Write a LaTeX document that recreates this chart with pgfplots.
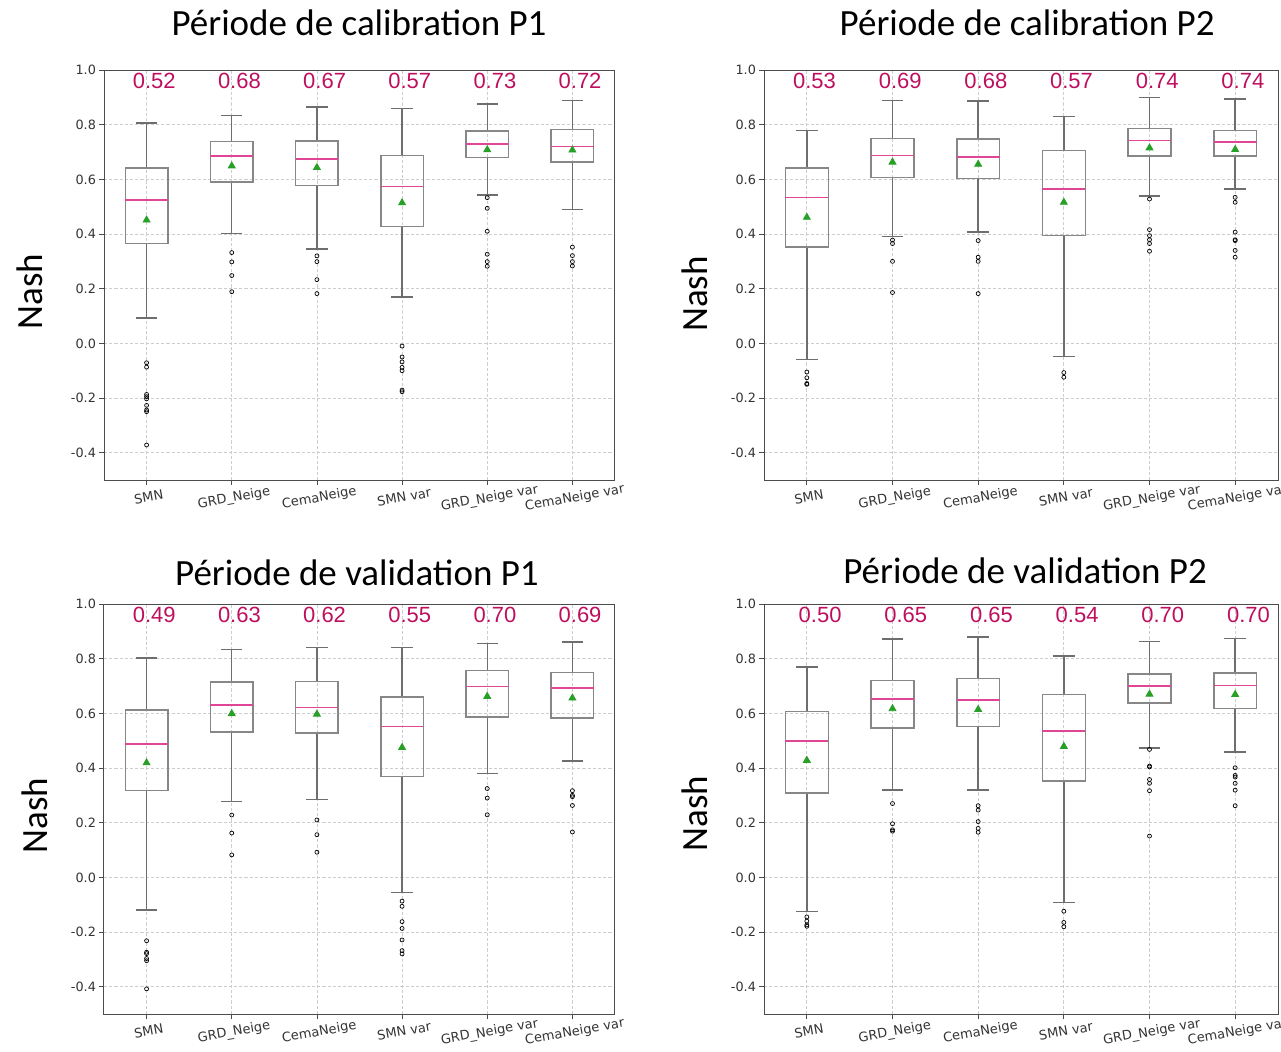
\documentclass[border=0pt]{standalone}
\usepackage{fontspec}
\setmainfont{Carlito}
\newfontfamily\arialf{Liberation Sans}
\newfontfamily\dejavu{DejaVu Sans}
\usepackage{pgfplots}
\pgfplotsset{compat=1.18}
\usepgfplotslibrary{statistics}
\definecolor{labelc}{RGB}{190,15,95}
\definecolor{medianc}{RGB}{225,70,150}
\definecolor{meangreen}{RGB}{40,160,40}
\definecolor{boxgray}{RGB}{135,135,135}
\definecolor{whiskgray}{RGB}{110,110,110}
\definecolor{gridc}{RGB}{205,205,205}
\tikzset{mlab/.style={font=\arialf\fontsize{11}{12}\selectfont, text=labelc, anchor=center}}
\pgfplotsset{
  panel/.style={
    scale only axis, height=205pt,
    xmin=0.5, xmax=6.5, ymin=-0.5, ymax=1.0,
    xtick={1,2,3,4,5,6},
    xticklabels={SMN,GRD\_Neige,CemaNeige,SMN var,GRD\_Neige var,CemaNeige var},
    ytick={-0.4,-0.2,0,0.2,0.4,0.6,0.8,1.0},
    /pgf/number format/assume math mode=true,
    yticklabel style={font=\dejavu\fontsize{6.4}{7}\selectfont, text=black!80, xshift=2pt,
      /pgf/number format/fixed, /pgf/number format/fixed zerofill, /pgf/number format/precision=1},
    xticklabel style={font=\dejavu\fontsize{6.5}{7}\selectfont, text=black!80, rotate=10, anchor=north},
    grid=major, grid style={gridc, dash pattern=on 1.6pt off 1pt, line width=0.4pt},
    axis line style={black!70, line width=0.5pt},
    tick align=outside, tick pos=left, major tick length=2.5pt,
    tick style={black!70, line width=0.4pt},
    ylabel={Nash},
    ylabel style={font=\fontsize{18.5}{20}\selectfont, anchor=center},
    title style={font=\fontsize{18.5}{20}\selectfont, anchor=center, yshift=-5.5pt},
    boxplot/draw direction=y,
    boxplot/box extend=0.5,
    boxplot/whisker extend=0.25,
    boxplot/every box/.style={draw=boxgray, line width=0.75pt},
    boxplot/every whisker/.style={draw=whiskgray, line width=0.7pt},
    boxplot/every median/.style={draw=medianc, line width=0.75pt},
  },
  bx/.style={draw=black, mark=o, mark size=1pt, mark options={black, line width=0.35pt, solid}},
  avg/.style={only marks, mark=triangle*, mark size=2pt, color=meangreen, mark options={fill=meangreen, draw=meangreen}},
}
\begin{document}
\begin{tikzpicture}
\useasboundingbox (0,0) rectangle (640.5pt,-525.5pt);

% ---------------- Panel 1 ----------------
\begin{axis}[panel, width=255.5pt, at={(52pt,-240pt)}, anchor=south west,
  title={Période de calibration P1}, title style={at={(axis description cs:0.499,1.112)}},
  ylabel style={at={(axis description cs:-0.145,0.459)}}]
\addplot[bx, boxplot prepared={draw position=1, lower whisker=0.092, lower quartile=0.366, median=0.524, upper quartile=0.642, upper whisker=0.806}] table[row sep=\\, y index=0] {d\\ -0.071\\ -0.087\\ -0.187\\ -0.195\\ -0.203\\ -0.227\\ -0.244\\ -0.250\\ -0.372\\};
\addplot[bx, boxplot prepared={draw position=2, lower whisker=0.401, lower quartile=0.590, median=0.685, upper quartile=0.738, upper whisker=0.834}] table[row sep=\\, y index=0] {d\\ 0.332\\ 0.298\\ 0.248\\ 0.189\\};
\addplot[bx, boxplot prepared={draw position=3, lower whisker=0.345, lower quartile=0.578, median=0.674, upper quartile=0.741, upper whisker=0.865}] table[row sep=\\, y index=0] {d\\ 0.320\\ 0.299\\ 0.233\\ 0.182\\};
\addplot[bx, boxplot prepared={draw position=4, lower whisker=0.169, lower quartile=0.427, median=0.573, upper quartile=0.688, upper whisker=0.860}] table[row sep=\\, y index=0] {d\\ -0.010\\ -0.050\\ -0.068\\ -0.088\\ -0.100\\ -0.171\\ -0.177\\};
\addplot[bx, boxplot prepared={draw position=5, lower whisker=0.542, lower quartile=0.680, median=0.729, upper quartile=0.776, upper whisker=0.876}] table[row sep=\\, y index=0] {d\\ 0.533\\ 0.494\\ 0.410\\ 0.326\\ 0.299\\ 0.282\\};
\addplot[bx, boxplot prepared={draw position=6, lower whisker=0.489, lower quartile=0.664, median=0.721, upper quartile=0.783, upper whisker=0.889}] table[row sep=\\, y index=0] {d\\ 0.352\\ 0.321\\ 0.299\\ 0.283\\};
\addplot[avg] coordinates {(1,0.451) (2,0.649) (3,0.643) (4,0.514) (5,0.708) (6,0.707)};
\node[mlab] at (axis cs:1.09,0.96) {0.52};
\node[mlab] at (axis cs:2.09,0.96) {0.68};
\node[mlab] at (axis cs:3.09,0.96) {0.67};
\node[mlab] at (axis cs:4.09,0.96) {0.57};
\node[mlab] at (axis cs:5.09,0.96) {0.73};
\node[mlab] at (axis cs:6.09,0.96) {0.72};
\end{axis}

% ---------------- Panel 2 ----------------
\begin{axis}[panel, width=257pt, at={(382pt,-240pt)}, anchor=south west,
  title={Période de calibration P2}, title style={at={(axis description cs:0.512,1.112)}},
  ylabel style={at={(axis description cs:-0.134,0.454)}}]
\addplot[bx, boxplot prepared={draw position=1, lower whisker=-0.060, lower quartile=0.352, median=0.533, upper quartile=0.642, upper whisker=0.778}] table[row sep=\\, y index=0] {d\\ -0.105\\ -0.126\\ -0.147\\ -0.150\\};
\addplot[bx, boxplot prepared={draw position=2, lower whisker=0.390, lower quartile=0.606, median=0.688, upper quartile=0.750, upper whisker=0.889}] table[row sep=\\, y index=0] {d\\ 0.378\\ 0.365\\ 0.300\\ 0.186\\};
\addplot[bx, boxplot prepared={draw position=3, lower whisker=0.407, lower quartile=0.603, median=0.682, upper quartile=0.748, upper whisker=0.886}] table[row sep=\\, y index=0] {d\\ 0.376\\ 0.315\\ 0.300\\ 0.182\\};
\addplot[bx, boxplot prepared={draw position=4, lower whisker=-0.048, lower quartile=0.394, median=0.565, upper quartile=0.705, upper whisker=0.830}] table[row sep=\\, y index=0] {d\\ -0.107\\ -0.124\\};
\addplot[bx, boxplot prepared={draw position=5, lower whisker=0.539, lower quartile=0.686, median=0.742, upper quartile=0.786, upper whisker=0.899}] table[row sep=\\, y index=0] {d\\ 0.528\\ 0.416\\ 0.394\\ 0.379\\ 0.365\\ 0.337\\};
\addplot[bx, boxplot prepared={draw position=6, lower whisker=0.565, lower quartile=0.685, median=0.737, upper quartile=0.778, upper whisker=0.894}] table[row sep=\\, y index=0] {d\\ 0.534\\ 0.516\\ 0.407\\ 0.379\\ 0.376\\ 0.340\\ 0.315\\};
\addplot[avg] coordinates {(1,0.461) (2,0.663) (3,0.655) (4,0.516) (5,0.715) (6,0.709)};
\node[mlab] at (axis cs:1.09,0.96) {0.53};
\node[mlab] at (axis cs:2.09,0.96) {0.69};
\node[mlab] at (axis cs:3.09,0.96) {0.68};
\node[mlab] at (axis cs:4.09,0.96) {0.57};
\node[mlab] at (axis cs:5.09,0.96) {0.74};
\node[mlab] at (axis cs:6.09,0.96) {0.74};
\end{axis}

% ---------------- Panel 3 ----------------
\begin{axis}[panel, width=255.5pt, at={(52pt,-507pt)}, anchor=south west,
  title={Période de validation P1}, title style={at={(axis description cs:0.495,1.073)}},
  ylabel style={at={(axis description cs:-0.135,0.484)}}]
\addplot[bx, boxplot prepared={draw position=1, lower whisker=-0.120, lower quartile=0.318, median=0.487, upper quartile=0.613, upper whisker=0.802}] table[row sep=\\, y index=0] {d\\ -0.232\\ -0.274\\ -0.279\\ -0.297\\ -0.305\\ -0.408\\};
\addplot[bx, boxplot prepared={draw position=2, lower whisker=0.277, lower quartile=0.532, median=0.631, upper quartile=0.715, upper whisker=0.833}] table[row sep=\\, y index=0] {d\\ 0.228\\ 0.162\\ 0.082\\};
\addplot[bx, boxplot prepared={draw position=3, lower whisker=0.284, lower quartile=0.529, median=0.621, upper quartile=0.716, upper whisker=0.840}] table[row sep=\\, y index=0] {d\\ 0.210\\ 0.156\\ 0.092\\};
\addplot[bx, boxplot prepared={draw position=4, lower whisker=-0.055, lower quartile=0.369, median=0.552, upper quartile=0.659, upper whisker=0.841}] table[row sep=\\, y index=0] {d\\ -0.087\\ -0.106\\ -0.162\\ -0.187\\ -0.229\\ -0.268\\ -0.280\\};
\addplot[bx, boxplot prepared={draw position=5, lower whisker=0.379, lower quartile=0.587, median=0.699, upper quartile=0.757, upper whisker=0.855}] table[row sep=\\, y index=0] {d\\ 0.325\\ 0.290\\ 0.229\\};
\addplot[bx, boxplot prepared={draw position=6, lower whisker=0.426, lower quartile=0.583, median=0.693, upper quartile=0.750, upper whisker=0.861}] table[row sep=\\, y index=0] {d\\ 0.317\\ 0.300\\ 0.295\\ 0.263\\ 0.166\\};
\addplot[avg] coordinates {(1,0.419) (2,0.599) (3,0.597) (4,0.475) (5,0.662) (6,0.656)};
\node[mlab] at (axis cs:1.09,0.96) {0.49};
\node[mlab] at (axis cs:2.09,0.96) {0.63};
\node[mlab] at (axis cs:3.09,0.96) {0.62};
\node[mlab] at (axis cs:4.09,0.96) {0.55};
\node[mlab] at (axis cs:5.09,0.96) {0.70};
\node[mlab] at (axis cs:6.09,0.96) {0.69};
\end{axis}

% ---------------- Panel 4 ----------------
\begin{axis}[panel, width=257pt, at={(382pt,-507pt)}, anchor=south west,
  title={Période de validation P2}, title style={at={(axis description cs:0.508,1.078)}},
  ylabel style={at={(axis description cs:-0.134,0.489)}}]
\addplot[bx, boxplot prepared={draw position=1, lower whisker=-0.124, lower quartile=0.309, median=0.499, upper quartile=0.606, upper whisker=0.770}] table[row sep=\\, y index=0] {d\\ -0.145\\ -0.160\\ -0.174\\ -0.179\\};
\addplot[bx, boxplot prepared={draw position=2, lower whisker=0.319, lower quartile=0.547, median=0.653, upper quartile=0.720, upper whisker=0.872}] table[row sep=\\, y index=0] {d\\ 0.270\\ 0.196\\ 0.174\\ 0.169\\};
\addplot[bx, boxplot prepared={draw position=3, lower whisker=0.319, lower quartile=0.552, median=0.648, upper quartile=0.727, upper whisker=0.879}] table[row sep=\\, y index=0] {d\\ 0.262\\ 0.246\\ 0.204\\ 0.179\\ 0.165\\};
\addplot[bx, boxplot prepared={draw position=4, lower whisker=-0.093, lower quartile=0.352, median=0.536, upper quartile=0.669, upper whisker=0.810}] table[row sep=\\, y index=0] {d\\ -0.124\\ -0.165\\ -0.181\\};
\addplot[bx, boxplot prepared={draw position=5, lower whisker=0.473, lower quartile=0.637, median=0.700, upper quartile=0.744, upper whisker=0.862}] table[row sep=\\, y index=0] {d\\ 0.468\\ 0.407\\ 0.404\\ 0.358\\ 0.344\\ 0.317\\ 0.151\\};
\addplot[bx, boxplot prepared={draw position=6, lower whisker=0.459, lower quartile=0.617, median=0.701, upper quartile=0.748, upper whisker=0.873}] table[row sep=\\, y index=0] {d\\ 0.401\\ 0.373\\ 0.367\\ 0.344\\ 0.319\\ 0.262\\};
\addplot[avg] coordinates {(1,0.428) (2,0.617) (3,0.614) (4,0.479) (5,0.670) (6,0.669)};
\node[mlab] at (axis cs:1.155,0.96) {0.50};
\node[mlab] at (axis cs:2.155,0.96) {0.65};
\node[mlab] at (axis cs:3.155,0.96) {0.65};
\node[mlab] at (axis cs:4.155,0.96) {0.54};
\node[mlab] at (axis cs:5.155,0.96) {0.70};
\node[mlab] at (axis cs:6.155,0.96) {0.70};
\end{axis}
\end{tikzpicture}
\end{document}
